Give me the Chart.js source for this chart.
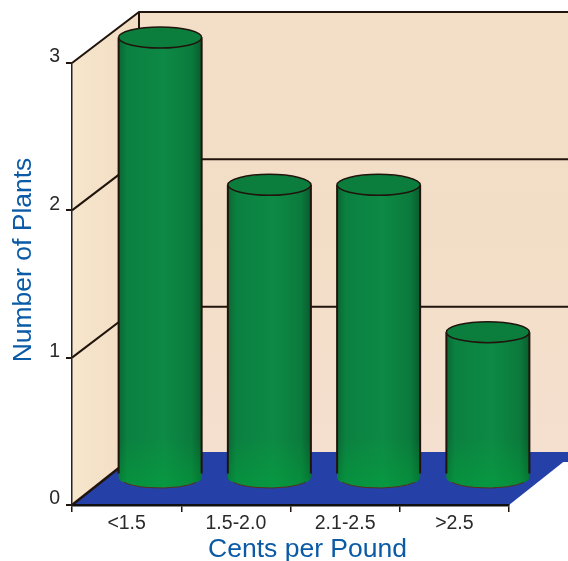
<!DOCTYPE html>
<html>
<head>
<meta charset="utf-8">
<style>
  html, body { margin: 0; padding: 0; background: #fff; overflow: hidden; }
  #wrap { position: relative; width: 568px; height: 561px; }
</style>
<script src="https://cdn.jsdelivr.net/npm/chart.js@4"></script>
</head>
<body>
<div id="wrap"><canvas id="plants"></canvas></div>
<script>
const categories = ["<1.5", "1.5-2.0", "2.1-2.5", ">2.5"];
const plantCounts = [3, 2, 2, 1];
const yTicks = [0, 1, 2, 3];
const xTitle = "Cents per Pound";
const yTitle = "Number of Plants";

const DEPTH_X = 67, DEPTH_Y = 51;   // how far the back wall sits from the axes
const INK = "#20140c";
const TITLE_BLUE = "#0b5aa6";

function wallGradient(ctx, x0, x1, c0, c1) {
  const g = ctx.createLinearGradient(x0, 0, x1, 0);
  g.addColorStop(0, c0);
  g.addColorStop(1, c1);
  return g;
}

function poly(ctx, pts) {
  ctx.beginPath();
  pts.forEach((p, i) => i ? ctx.lineTo(p[0], p[1]) : ctx.moveTo(p[0], p[1]));
  ctx.closePath();
}

// --- the box behind the bars: side wall, back wall, floor ---
const boxPlugin = {
  id: "box",
  beforeDraw(chart) {
    const { ctx, chartArea: a, scales: { y } } = chart;
    const bx = a.left + DEPTH_X;
    const farRight = chart.width + 10;
    const floorBack = a.bottom - DEPTH_Y - 2;
    ctx.save();

    const back = ctx.createLinearGradient(0, y.getPixelForValue(3) - DEPTH_Y, 0, a.bottom - DEPTH_Y);
    back.addColorStop(0, "#f3dec8");
    back.addColorStop(0.5, "#f2dec6");
    back.addColorStop(1, "#f5e0d0");
    ctx.fillStyle = back;
    ctx.fillRect(bx, a.top - DEPTH_Y, farRight - bx, a.bottom - a.top);

    ctx.fillStyle = wallGradient(ctx, a.left, bx, "#f6e6cc", "#f2dcc2");
    poly(ctx, [[a.left, a.top], [bx, a.top - DEPTH_Y], [bx, floorBack], [a.left, a.bottom]]);
    ctx.fill();

    ctx.fillStyle = "#2540a6";
    poly(ctx, [[a.left, a.bottom], [a.right, a.bottom],
               [a.right + DEPTH_X, floorBack], [bx, floorBack]]);
    ctx.fill();
    ctx.fillRect(bx, floorBack, farRight - bx, 10);

    // gridlines run along the side wall and across the back wall
    ctx.strokeStyle = INK;
    ctx.lineWidth = 2;
    yTicks.filter(v => v > 0).forEach(v => {
      const py = y.getPixelForValue(v);
      ctx.beginPath();
      ctx.moveTo(a.left, py);
      ctx.lineTo(bx, py - DEPTH_Y);
      ctx.lineTo(farRight, py - DEPTH_Y);
      ctx.stroke();
    });
    ctx.beginPath();
    ctx.moveTo(bx, a.top - DEPTH_Y);
    ctx.lineTo(bx, floorBack);
    ctx.stroke();
    ctx.beginPath();
    ctx.moveTo(a.left, a.bottom);
    ctx.lineTo(bx, floorBack);
    ctx.lineWidth = 2.5;
    ctx.stroke();
    ctx.restore();
  },
  // --- bars are drawn as cylinders, standing halfway into the box ---
  beforeDatasetDraw(chart, args) {
    const { ctx } = chart;
    args.meta.data.forEach(bar => drawCylinder(ctx, bar));
    return false;
  },
  afterDraw(chart) {
    const { ctx, chartArea: a } = chart;
    ctx.save();
    ctx.fillStyle = TITLE_BLUE;
    ctx.font = "26.5px 'Liberation Sans'";
    ctx.textAlign = "center";
    ctx.textBaseline = "alphabetic";
    ctx.fillText(xTitle, (a.left + a.right) / 2 + 17, 557);
    ctx.translate(31, (a.top + a.bottom) / 2 - 24);
    ctx.rotate(-Math.PI / 2);
    ctx.fillText(yTitle, 0, 0);
    ctx.restore();
  }
};

function drawCylinder(ctx, bar) {
  const cx = bar.x + DEPTH_X / 2, rx = bar.width / 2, ry = 10.5;
  const top = bar.y - DEPTH_Y / 2, bottom = bar.base - DEPTH_Y / 2 - 1;
  ctx.save();

  const side = ctx.createLinearGradient(cx - rx, 0, cx + rx, 0);
  side.addColorStop(0, "#0a6633");
  side.addColorStop(0.1, "#0b8040");
  side.addColorStop(0.55, "#0d8a45");
  side.addColorStop(0.88, "#0b7a3c");
  side.addColorStop(1, "#085c2e");

  ctx.beginPath();
  ctx.moveTo(cx - rx, top);
  ctx.lineTo(cx - rx, bottom);
  ctx.ellipse(cx, bottom, rx, ry, 0, Math.PI, 0, true);
  ctx.lineTo(cx + rx, top);
  ctx.closePath();
  ctx.fillStyle = side;
  ctx.fill();

  const glow = ctx.createLinearGradient(0, bottom - 40, 0, bottom + ry);
  glow.addColorStop(0, "rgba(0,170,60,0)");
  glow.addColorStop(1, "rgba(0,170,60,0.45)");
  ctx.fillStyle = glow;
  ctx.fill();

  ctx.strokeStyle = INK;
  ctx.lineWidth = 2;
  ctx.beginPath();
  ctx.moveTo(cx - rx, top);
  ctx.lineTo(cx - rx, bottom - 4);
  ctx.moveTo(cx + rx, top);
  ctx.lineTo(cx + rx, bottom - 4);
  ctx.stroke();

  ctx.strokeStyle = "#5a2a20";
  ctx.lineWidth = 1;
  ctx.beginPath();
  ctx.ellipse(cx, bottom, rx - 1, ry, 0, Math.PI * 0.85, Math.PI * 0.15, true);
  ctx.stroke();

  ctx.beginPath();
  ctx.ellipse(cx, top, rx, ry, 0, 0, Math.PI * 2);
  ctx.fillStyle = "#0b7d3c";
  ctx.fill();
  ctx.strokeStyle = INK;
  ctx.lineWidth = 1.5;
  ctx.stroke();
  ctx.restore();
}

new Chart(document.getElementById("plants"), {
  type: "bar",
  data: {
    labels: categories,
    datasets: [{
      label: yTitle,
      data: plantCounts,
      backgroundColor: "#0b7d3c",
      barPercentage: 0.76,
      categoryPercentage: 1
    }]
  },
  plugins: [boxPlugin],
  options: {
    responsive: true,
    maintainAspectRatio: false,
    animation: false,
    layout: { padding: { top: 63, right: 59, left: 0, bottom: 0 } },
    plugins: { legend: { display: false }, tooltip: { enabled: false } },
    scales: {
      x: {
        afterFit(s) { s.height = 56; },
        grid: { drawOnChartArea: false, color: INK, tickLength: 7, lineWidth: 1.5 },
        border: { color: "#111", width: 2.5 },
        ticks: { color: "#2a2a2a", padding: 0, maxRotation: 0, font: { family: "'Liberation Sans'", size: 19.5 } }
      },
      y: {
        min: 0,
        max: 3,
        afterFit(s) { s.width = 72; },
        afterBuildTicks(s) { s.ticks = yTicks.map(value => ({ value })); },
        grid: { drawOnChartArea: false, color: INK, tickLength: 6, lineWidth: 2 },
        border: { color: "#222", width: 1.5 },
        ticks: {
          color: "#2a2a2a",
          padding: 6,
          // the blank second line lifts each number a little above its tick
          callback: v => [String(v), ""],
          font: { family: "'Liberation Sans'", size: 19.5, lineHeight: 0.62 }
        }
      }
    }
  }
});
</script>
</body>
</html>
